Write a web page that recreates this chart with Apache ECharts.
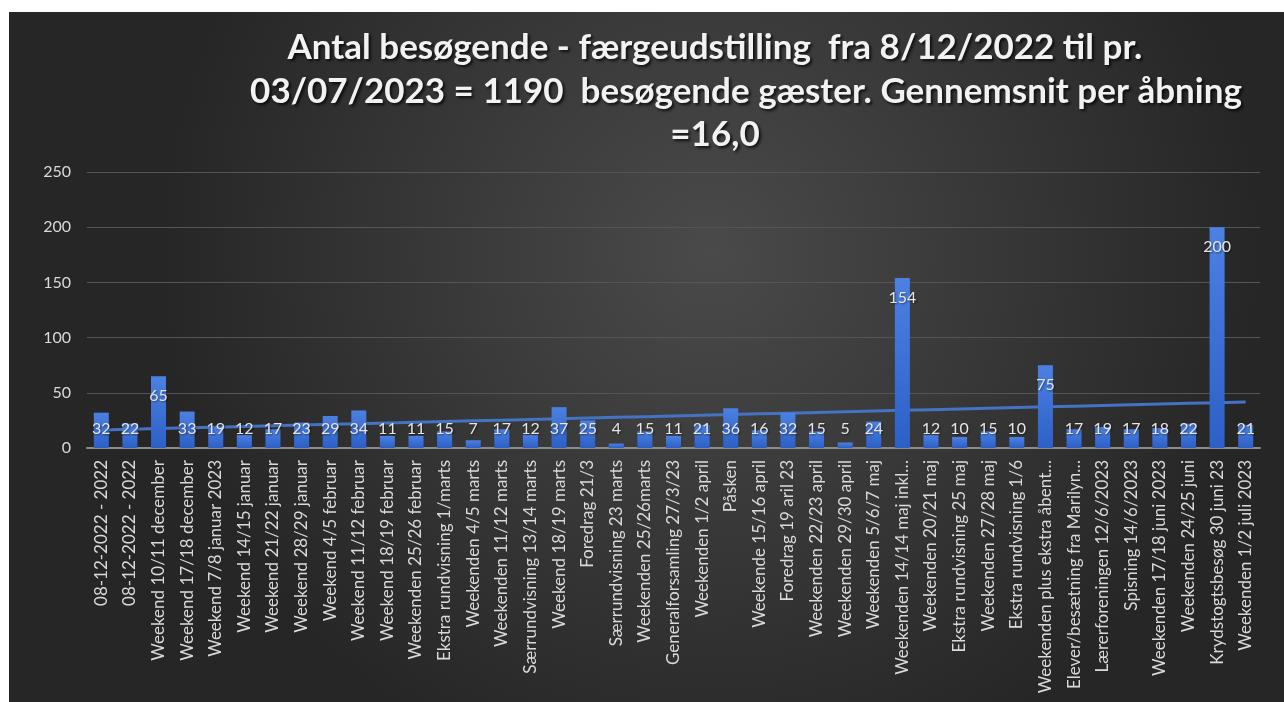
<!DOCTYPE html>
<html>
<head>
<meta charset="utf-8">
<script src="https://cdn.jsdelivr.net/npm/echarts@6/dist/echarts.min.js"></script>
<style>
  html, body { margin: 0; padding: 0; background: #ffffff; }
  #chart { position: absolute; left: 9px; top: 12px; width: 1275px; height: 690px; }
</style>
</head>
<body>
<div id="chart"></div>
<script>
const titleLines = [
  "Antal besøgende - færgeudstilling  fra 8/12/2022 til pr.",
  "03/07/2023 = 1190  besøgende gæster. Gennemsnit per åbning",
  "=16,0"
];
const categories = [
  "08-12-2022 - 2022", "08-12-2022 - 2022", "Weekend 10/11 december", "Weekend 17/18 december",
  "Weekend 7/8 januar 2023", "Weekend 14/15 januar", "Weekend 21/22 januar", "Weekend 28/29 januar",
  "Weekend 4/5 februar", "Weekend 11/12 februar", "Weekend 18/19 februar", "Weekenden 25/26 februar",
  "Ekstra rundvisning 1/marts", "Weekenden 4/5 marts", "Weekenden 11/12 marts", "Særrundvisning 13/14 marts",
  "Weekend 18/19 marts", "Foredrag 21/3", "Særrundvisning 23 marts", "Weekenden 25/26marts",
  "Generalforsamling 27/3/23", "Weekenden 1/2 april", "Påsken", "Weekende 15/16 april",
  "Foredrag 19 aril 23", "Weekenden 22/23 april", "Weekenden 29/30 april", "Weekenden 5/6/7 maj",
  "Weekenden 14/14 maj inkl…", "Weekenden 20/21 maj", "Ekstra rundvisning 25 maj", "Weekenden 27/28 maj",
  "Ekstra rundvisning 1/6", "Weekenden plus ekstra åbent…", "Elever/besætning fra Marilyn…", "Lærerforeningen 12/6/2023",
  "Spisning 14/6/2023", "Weekenden 17/18 juni 2023", "Weekenden 24/25 juni", "Krydstogtsbesøg 30 juni 23",
  "Weekenden 1/2 juli 2023"
];
const visitors = [
  32, 22, 65, 33, 19, 12, 17, 23, 29, 34, 11, 11, 15, 7, 17, 12, 37, 25, 4, 15, 11, 21, 36, 16, 32, 15, 5, 24,
  154, 12, 10, 15, 10, 75, 17, 19, 17, 18, 22, 200, 21
];
const yTicks = { min: 0, max: 250, interval: 50 };

// Linear trendline (least squares over the visitor counts)
const n = visitors.length;
let sx = 0, sy = 0, sxx = 0, sxy = 0;
visitors.forEach((v, i) => { const x = i + 1; sx += x; sy += v; sxx += x * x; sxy += x * v; });
const slope = (n * sxy - sx * sy) / (n * sxx - sx * sx);
const intercept = (sy - slope * sx) / n;
const trend = visitors.map((v, i) => +(intercept + slope * (i + 1)).toFixed(3));

const chart = echarts.init(document.getElementById('chart'));
const titleFont = { color: '#f2f2f2', fontSize: 35, fontWeight: 'bold', fontFamily: 'Lato',
  textShadowColor: 'rgba(0,0,0,0.75)', textShadowBlur: 3, textShadowOffsetX: 2, textShadowOffsetY: 2 };
const titleCenters = [[701, 13], [732, 57], [701, 100]];

chart.setOption({
  backgroundColor: {
    type: 'radial', x: 0.55, y: 0.35, r: 0.8,
    colorStops: [{ offset: 0, color: '#4a4a4a' }, { offset: 1, color: '#262626' }]
  },
  animation: false,
  title: titleLines.map((t, i) => ({
    text: t, left: titleCenters[i][0], top: titleCenters[i][1], textAlign: 'center',
    textStyle: titleFont
  })),
  grid: { left: 78, right: 24, top: 160, bottom: 254, containLabel: false },
  xAxis: {
    type: 'category', data: categories,
    axisLine: { lineStyle: { color: '#8c8c8c', width: 2 } },
    axisTick: { show: false },
    axisLabel: { interval: 0, rotate: 90, margin: 12, color: '#d9d9d9', fontSize: 17, fontFamily: 'Lato' }
  },
  yAxis: {
    type: 'value', min: yTicks.min, max: yTicks.max, interval: yTicks.interval,
    axisLine: { show: false }, axisTick: { show: false },
    axisLabel: { color: '#d9d9d9', fontSize: 16, fontFamily: 'Lato', margin: 16 },
    splitLine: { lineStyle: { color: '#555555', width: 1 } }
  },
  series: [
    {
      type: 'line', data: trend, symbol: 'none', z: 2,
      lineStyle: { color: '#4472c4', width: 3 }, silent: true
    },
    {
      type: 'bar', z: 3, barWidth: 15,
      itemStyle: {
        color: { type: 'linear', x: 0, y: 0, x2: 0, y2: 1,
          colorStops: [{ offset: 0, color: '#4c80e2' }, { offset: 1, color: '#2d60c6' }] }
      },
      data: visitors.map(v => ({
        value: v,
        label: { position: v >= 40 ? 'insideTop' : 'insideBottom', distance: v >= 40 ? 12 : 11 }
      })),
      label: {
        show: true, color: '#e6e6e6', fontSize: 16, fontFamily: 'Lato',
        textShadowColor: 'rgba(0,0,0,0.5)', textShadowBlur: 2, textShadowOffsetX: 1, textShadowOffsetY: 1
      }
    }
  ]
});
</script>
</body>
</html>
